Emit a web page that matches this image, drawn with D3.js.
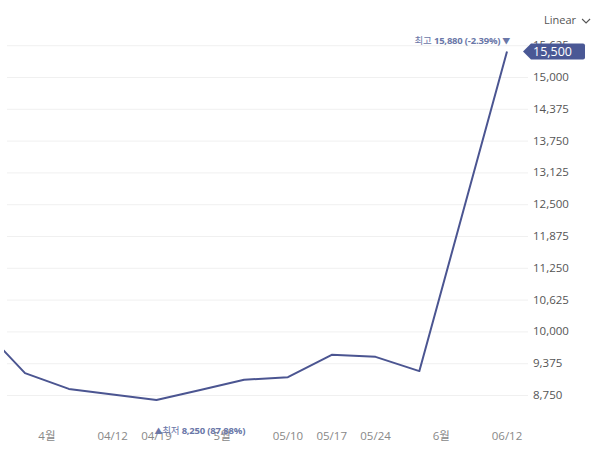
<!DOCTYPE html>
<html>
<head>
  <meta charset="utf-8">
  <script src="https://d3js.org/d3.v7.min.js"></script>
  <style>
    body { margin: 0; background: #fff; }
    text { font-family: "Open Sans", "Noto Sans CJK KR", sans-serif; }
    .gridlines line { stroke: #f0f0f0; }
    .gridlines .domain { stroke: none; }
  </style>
</head>
<body>
  <svg id="svg" width="600" height="453"></svg>
  <script>
    // weekly prices
    const weeks = ["03/22", "03/29", "04/05", "04/12", "04/19", "04/26", "05/03",
                   "05/10", "05/17", "05/24", "05/31", "06/07", "06/12"];
    const prices = [10090, 9180, 8870, 8760, 8650, 8850, 9050, 9100, 9540, 9500, 9220, 12360, 15500];

    const yTicks = [8750, 9375, 10000, 10625, 11250, 11875, 12500, 13125, 13750, 14375, 15000, 15625];
    const dateLabels = ["04/12", "04/19", "05/10", "05/17", "05/24", "06/12"];
    const monthLabels = ["4월", "5월", "6월"];
    const monthBounds = [["03/29", "04/05"], ["04/26", "05/03"], ["05/31", "06/07"]];

    const maxPrice = 15880, maxPct = "-2.39%";
    const minPrice = 8250, minPct = "87.88%", minWeek = "04/19";
    const lastPrice = prices[prices.length - 1];

    const svg = d3.select("#svg");
    const lineColor = "#4b5591";
    const fmt = d3.format(",");

    const x = d3.scalePoint().domain(weeks).range([-18.8, 507]);
    const y = d3.scaleLinear().domain([8750, 15625]).range([395, 45.2]);

    // gridlines
    svg.append("g").attr("class", "gridlines")
      .attr("transform", "translate(7,0)")
      .call(d3.axisRight(y).tickValues(yTicks).tickSize(521).tickFormat(""));

    // y axis labels
    svg.append("g").selectAll("text")
      .data(yTicks)
      .join("text")
      .attr("x", 533)
      .attr("y", d => y(d))
      .attr("dy", "0.35em")
      .attr("font-size", 11.5)
      .attr("fill", "#555")
      .text(d => fmt(d));

    // x labels
    svg.append("g").selectAll("text")
      .data(dateLabels)
      .join("text")
      .attr("x", d => x(d))
      .attr("y", 440)
      .attr("text-anchor", "middle")
      .attr("font-size", 11.5)
      .attr("fill", "#888")
      .text(d => d);

    svg.append("g").selectAll("text")
      .data(monthLabels)
      .join("text")
      .attr("x", (d, i) => (x(monthBounds[i][0]) + x(monthBounds[i][1])) / 2)
      .attr("y", 440)
      .attr("text-anchor", "middle")
      .attr("font-size", 11.5)
      .attr("fill", "#888")
      .text(d => d);

    // line
    svg.append("clipPath").attr("id", "clip")
      .append("rect").attr("x", 4).attr("y", 0).attr("width", 526).attr("height", 453);

    const lineGenerator = d3.line()
      .x((d, i) => x(weeks[i]))
      .y(d => y(d));

    svg.append("path")
      .datum(prices)
      .attr("clip-path", "url(#clip)")
      .attr("fill", "none")
      .attr("stroke", lineColor)
      .attr("stroke-width", 2)
      .attr("stroke-linejoin", "round")
      .attr("d", lineGenerator);

    // max annotation
    const maxText = svg.append("text")
      .attr("x", x(weeks[weeks.length - 1]) + 3)
      .attr("y", 44)
      .attr("text-anchor", "end")
      .attr("font-size", 9.5)
      .attr("letter-spacing", -0.2)
      .attr("fill", "#6a77a8");
    maxText.append("tspan").text("최고 ");
    maxText.append("tspan").attr("font-weight", "bold").text(`${fmt(maxPrice)} (${maxPct})`);
    maxText.append("tspan").attr("font-size", 8).text(" ▼");

    // min annotation
    const minText = svg.append("text")
      .attr("x", x(minWeek) - 2)
      .attr("y", 434)
      .attr("font-size", 9.5)
      .attr("letter-spacing", -0.2)
      .attr("fill", "#6a77a8");
    minText.append("tspan").attr("font-size", 8).text("▲");
    minText.append("tspan").text("최저 ");
    minText.append("tspan").attr("font-weight", "bold").text(`${fmt(minPrice)} (${minPct})`);

    // current value badge
    const by = y(lastPrice);
    const badge = svg.append("g").attr("transform", `translate(523,${by})`);
    badge.append("path")
      .attr("d", "M0,0 L8,-8 L60,-8 Q62,-8 62,-6 L62,6 Q62,8 60,8 L8,8 Z")
      .attr("fill", "#4a5895");
    badge.append("text")
      .attr("x", 10)
      .attr("dy", "0.36em")
      .attr("font-size", 12.5)
      .attr("fill", "#fff")
      .text(fmt(lastPrice));

    // scale selector
    const sel = svg.append("g").attr("transform", "translate(544,24)");
    const selText = sel.append("text")
      .attr("font-size", 11)
      .attr("fill", "#555")
      .text("Linear");
    const tw = selText.node().getComputedTextLength();
    sel.append("path")
      .attr("d", `M${tw + 6},-5 L${tw + 10},-1 L${tw + 14},-5`)
      .attr("fill", "none")
      .attr("stroke", "#555")
      .attr("stroke-width", 1.1);
  </script>
</body>
</html>
